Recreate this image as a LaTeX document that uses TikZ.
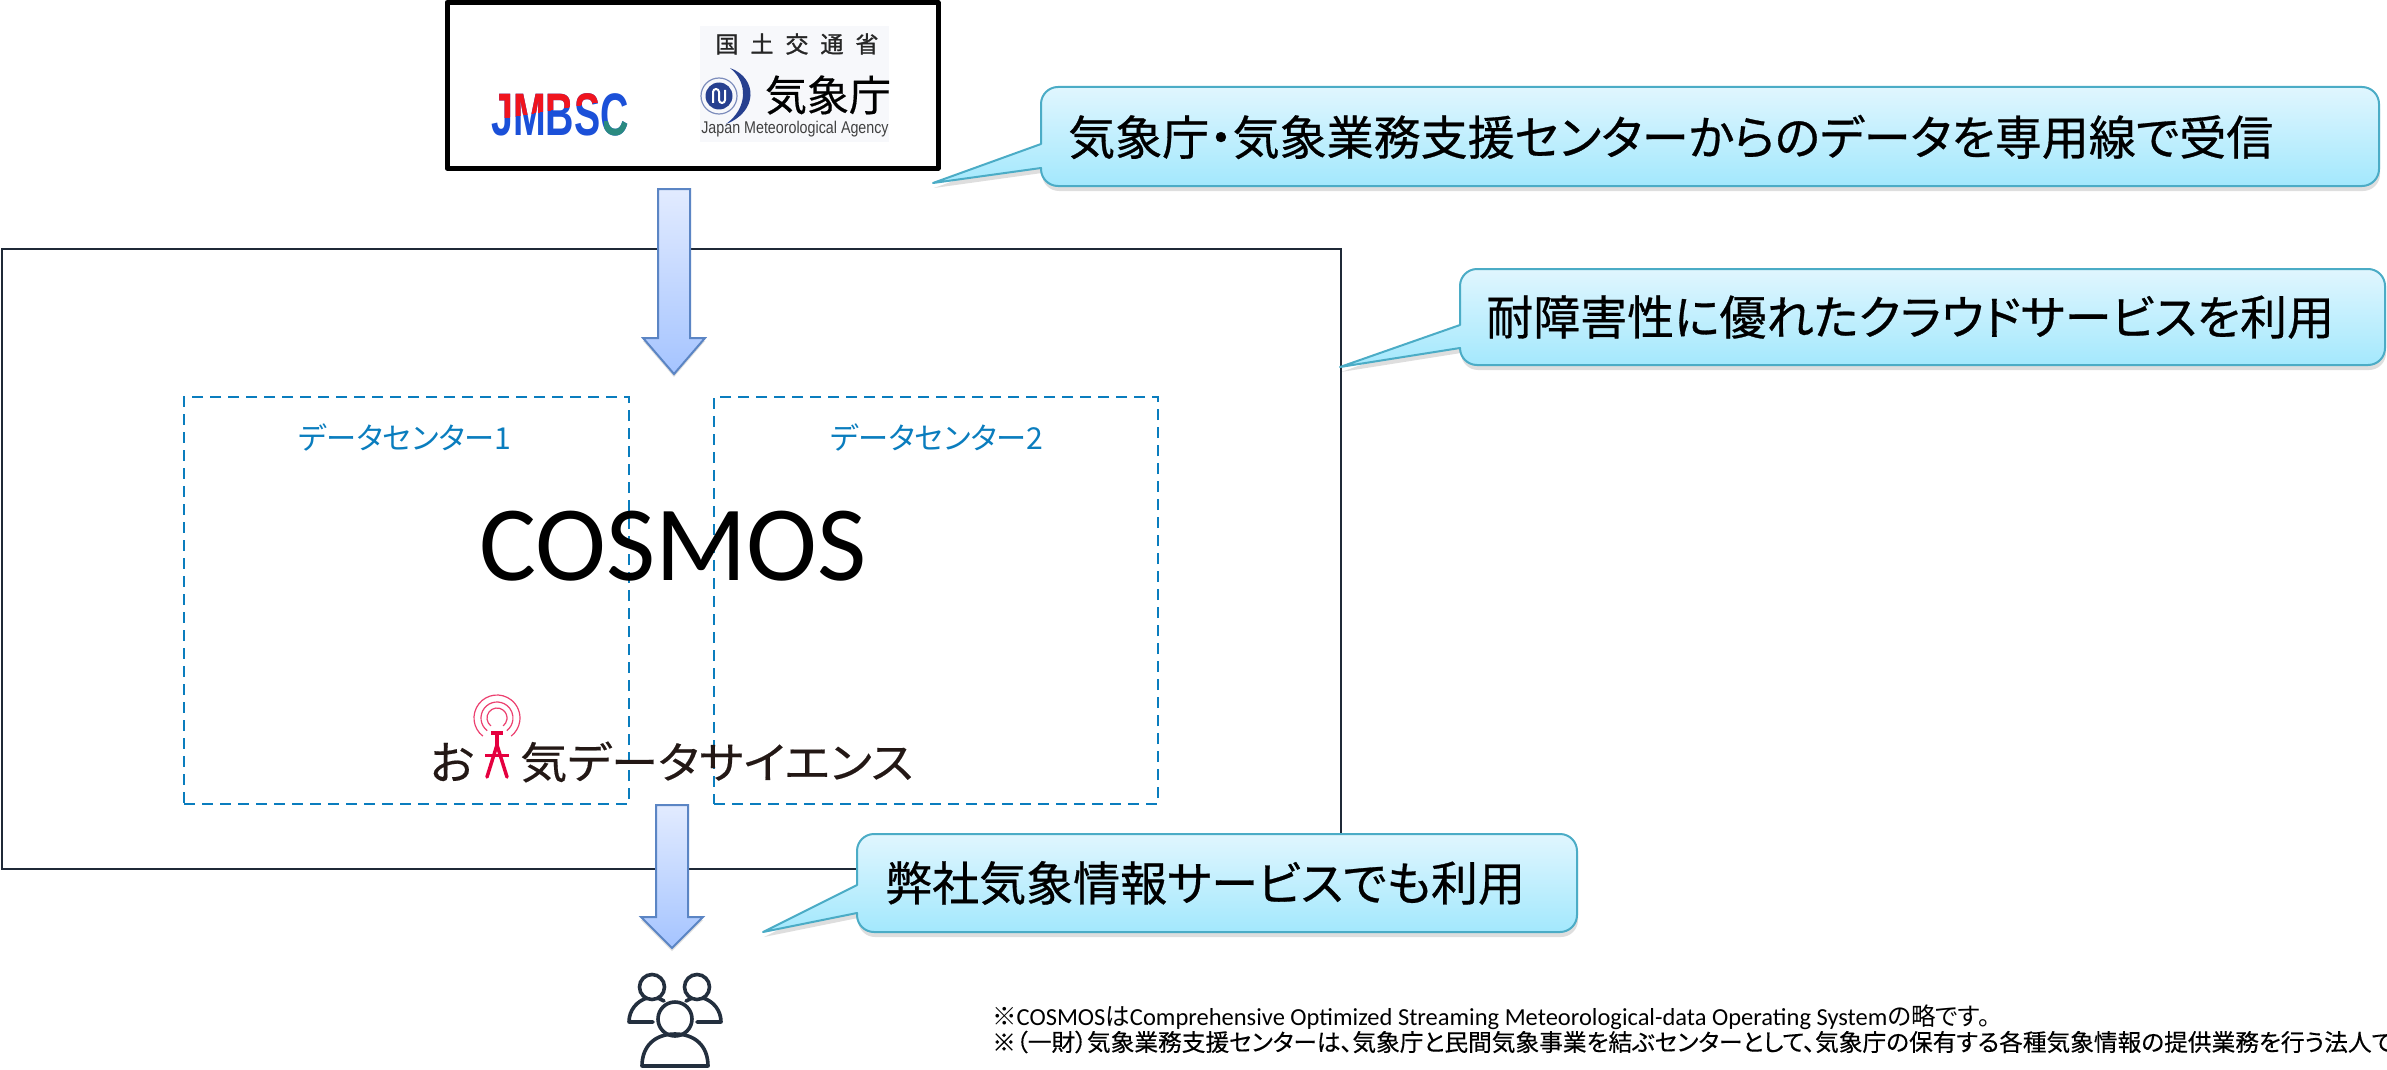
\documentclass[tikz,border=0pt]{standalone}
\usepackage{fontspec}
\setmainfont{Carlito}
\newfontfamily\jp{Noto Sans CJK JP}
\newfontfamily\jpb[FakeBold=1.2]{Noto Sans CJK JP}
\newfontfamily\jpp[RawFeature={+palt}]{Noto Sans CJK JP}
\newfontfamily\jpm[RawFeature={+palt},FakeBold=.6]{Noto Sans CJK JP}
\newfontfamily\jpn[RawFeature={+palt},FakeBold=.35]{Noto Sans CJK JP}
\newfontfamily\lab{Liberation Sans}
\definecolor{calloutline}{HTML}{4BACC6}
\definecolor{calloutTop}{HTML}{E0F6FE}
\definecolor{calloutBot}{HTML}{A3E8FD}
\definecolor{arrowTop}{HTML}{E2EBFF}
\definecolor{arrowBot}{HTML}{A5C4FF}
\definecolor{arrowLine}{HTML}{5B85C4}
\definecolor{frameLine}{HTML}{1F2937}
\definecolor{dcBlue}{HTML}{0A7DBE}
\definecolor{iconInk}{HTML}{232F3E}
\definecolor{logoInk}{HTML}{231815}
\definecolor{logoRed}{HTML}{E5003F}
\definecolor{jmRed}{HTML}{F0141E}
\definecolor{jmBlue}{HTML}{1B50D8}
\definecolor{jmTeal}{HTML}{2A8A80}
\definecolor{jmaBack}{HTML}{F7F8FB}
\definecolor{jmaBlue}{HTML}{27408F}
\tikzset{
  calloutshape/.style={draw=calloutline,line width=2pt,top color=calloutTop,bottom color=calloutBot,line join=round},
  shadowshape/.style={fill=black,fill opacity=.13,draw=none},
  blockarrow/.style={draw=arrowLine,line width=2pt,top color=arrowTop,bottom color=arrowBot,line join=miter},
  calltext/.style={font=\fontsize{47}{50}\selectfont\jpm,text=black,inner sep=0pt,anchor=west},
  dclabel/.style={font=\fontsize{30.2}{32}\selectfont\jpp,text=dcBlue,inner sep=0pt},
  dcbox/.style={draw=dcBlue,line width=2.6pt,dash pattern=on 11pt off 7pt,inner sep=0pt},
  noteline/.style={inner sep=0pt,anchor=base west},
  peopleline/.style={draw=iconInk,line width=3.6pt,line cap=round,line join=round},
  jmtext/.style={inner sep=0pt,font=\fontsize{60}{60}\bfseries\selectfont\lab,xscale=.655},
}
% x0 y0 x1 y1 tipx tipy t1 t2
\newcommand{\calloutpath}[8]{(#1,#7) -- ({#1},{#2+17}) arc (180:90:17pt) -- ({#3-17},{#2}) arc (90:0:17pt) -- ({#3},{#4-17}) arc (0:-90:17pt) -- ({#1+17},{#4}) arc (-90:-180:17pt) -- (#1,#8) -- (#5,#6) -- cycle}
\newcommand{\callout}[8]{%
  \fill[shadowshape,xshift=1pt,yshift=-5pt] \calloutpath{#1}{#2}{#3}{#4}{#5}{#6}{#7}{#8};
  \path[calloutshape] \calloutpath{#1}{#2}{#3}{#4}{#5}{#6}{#7}{#8};
}
% shaft left, shaft right, head left, head right, top, neck, tip
\newcommand{\blockdown}[7]{%
  \fill[shadowshape,yshift=-3pt] (#1,#5) -- (#2,#5) -- (#2,#6) -- (#4,#6) -- ({(#3+#4)/2},#7) -- (#3,#6) -- (#1,#6) -- cycle;
  \path[blockarrow] (#1,#5) -- (#2,#5) -- (#2,#6) -- (#4,#6) -- ({(#3+#4)/2},#7) -- (#3,#6) -- (#1,#6) -- cycle;
}
\begin{document}
\begin{tikzpicture}[x=1pt,y=-1pt]
\useasboundingbox (0,0) rectangle (2387,1070);
\fill[white] (0,0) rectangle (2387,1070);

% sources box
\draw[black,line width=5pt,line join=round] (447,2.5) rectangle (938,168);

% JMBSC logo
\node[jmtext,text=jmBlue] (jmbsc) at (560,115) {JMBSC};
\begin{scope}
  \clip (480,85) -- (598,85) -- (598,102) -- (480,122) -- cycle;
  \node[jmtext,text=jmRed] at (560,115) {JMBSC};
\end{scope}
\begin{scope}
  \clip (604,122) rectangle (640,145);
  \node[jmtext,text=jmTeal] at (560,115) {JMBSC};
\end{scope}

% JMA logo
\fill[jmaBack] (700,26) rectangle (889,142);
\node[inner sep=0pt,font=\fontsize{23}{26}\selectfont\jpb,text=black!85] (mlit) at (797,44) {国\hspace{12pt}土\hspace{12pt}交\hspace{12pt}通\hspace{12pt}省};
\draw[jmaBlue!60,line width=1.2pt] (719,96) circle (18);
\fill[jmaBlue] (719,96) circle (13.5);
\draw[white,line width=2pt] (713,103) -- (713,92) arc (180:0:3pt) -- (719,100) arc (180:360:3pt) -- (725,90);
\fill[jmaBlue] (730,68) .. controls (758,78) and (758,112) .. (726,124) .. controls (748,108) and (748,82) .. cycle;
\node[inner sep=0pt,font=\fontsize{42}{46}\selectfont\jpn,text=black] (kishocho) at (828,95) {気象庁};
\node[inner sep=0pt,font=\fontsize{17}{18}\selectfont\lab,text=black!75,xscale=.84] (jma) at (795,129) {Japan Meteorological Agency};

% main frame
\node[draw=frameLine,line width=2.2pt,inner sep=0pt,minimum width=1339pt,minimum height=620pt] (cosmosbox) at (671.5,559) {};

% data centres
\node[dcbox,minimum width=445pt,minimum height=407pt] (dc1) at (406.5,600.5) {};
\node[dcbox,minimum width=444pt,minimum height=407pt] (dc2) at (936,600.5) {};
\node[dclabel] (dc1label) at (405,437) {データセンター1};
\node[dclabel] (dc2label) at (937,437) {データセンター2};

% COSMOS
\node[inner sep=0pt,font=\fontsize{107}{110}\selectfont,text=black] (cosmos) at (673,546) {COSMOS};

% oteki logo
\node[inner sep=0pt,font=\fontsize{46}{48}\selectfont\jpn,text=logoInk] (o) at (452,762) {お};
\node[inner sep=0pt,font=\fontsize{43.5}{46}\selectfont\jpn,text=logoInk,anchor=west,xscale=1.084] (dstext) at (520,762) {気データサイエンス};
\begin{scope}[logoRed]
  \coordinate (ringc) at (497,718);
  \draw[line width=1.2pt,logoRed!75] ([shift={(232:23pt)}]ringc) arc (232:-52:23pt);
  \draw[line width=1.2pt,logoRed!75] ([shift={(232:16pt)}]ringc) arc (232:-52:16pt);
  \draw[line width=1.2pt,logoRed!75] ([shift={(232:10pt)}]ringc) arc (232:-52:10pt);
  \fill (491,731) rectangle (503,735);
  \draw[line width=4.5pt] (497,735) -- (497,748);
  \draw[line width=3.5pt,line cap=round] (497,745) -- (487,777);
  \draw[line width=3.5pt,line cap=round] (497,745) -- (507,777);
  \draw[line width=3pt] (485,755) -- (509,755);
\end{scope}

% arrows
\blockdown{658}{690}{643}{705}{189}{338}{374}
\blockdown{656}{688}{641}{703}{805}{917}{948}

% people icon
\draw[peopleline] (652,987) circle (12.5);
\draw[peopleline] (697,987) circle (12.5);
\draw[peopleline] (653,1022) -- (629,1022) .. controls (629,1010) and (637,1001) .. (647,998);
\draw[peopleline] (658,998) -- (664,1001);
\draw[peopleline] (697,1022) -- (721,1022) .. controls (721,1010) and (713,1001) .. (703,998);
\draw[peopleline] (692,998) -- (686,1001);
\draw[peopleline] (675,1019) circle (17);
\draw[peopleline] (642,1066) .. controls (642,1046) and (655,1034) .. (675,1034) .. controls (695,1034) and (708,1046) .. (708,1066) -- cycle;

% callouts
\callout{1041}{87}{2379}{186}{933}{183}{144}{168}
\node[calltext] (c1) at (1068,137) {気象庁・気象業務支援センターからのデータを専用線で受信};
\callout{1460}{269}{2385}{365}{1340}{367}{325}{348}
\node[calltext] (c2) at (1486,317) {耐障害性に優れたクラウドサービスを利用};
\callout{857}{834}{1577}{932}{763}{932}{885}{913}
\node[calltext] (c3) at (885,883) {弊社気象情報サービスでも利用};

% notes
\node[noteline,font=\fontsize{24.5}{27}\selectfont] (n1) at (992,1025) {{\jpp ※}COSMOS{\jpp は}Comprehensive Optimized Streaming Meteorological-data Operating System{\jpp の略です。}};
\node[noteline,font=\fontsize{23.7}{27}\selectfont\jpn] (n2) at (992,1051) {※（一財）気象業務支援センターは、気象庁と民間気象事業を結ぶセンターとして、気象庁の保有する各種気象情報の提供業務を行う法人で};
\end{tikzpicture}
\end{document}
